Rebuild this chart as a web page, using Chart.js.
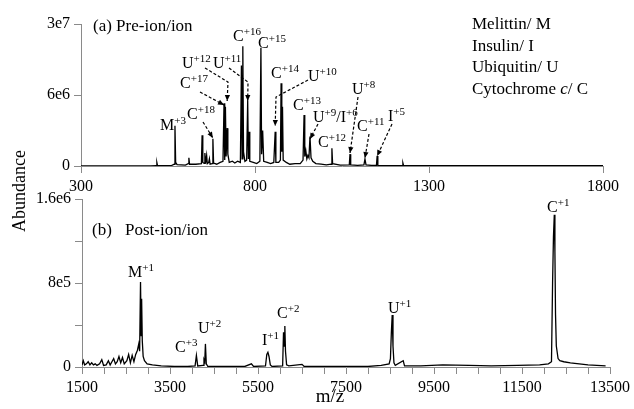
<!DOCTYPE html>
<html>
<head>
<meta charset="utf-8">
<script src="https://cdn.jsdelivr.net/npm/chart.js@4/dist/chart.umd.min.js"></script>
<style>
html,body{margin:0;padding:0;background:#fff;}
#wrap{position:relative;width:634px;height:409px;overflow:hidden;}
canvas{position:absolute;left:0;top:0;}
</style>
</head>
<body>
<div id="wrap">
  <canvas id="post" width="634" height="409"></canvas>
  <canvas id="pre" width="634" height="192"></canvas>
</div>
<script>
// ---- panel (a) pre-ion/ion spectrum: m/z and abundance
const MZ_A=[300,500,516,518,520,560,568,570,572,576,600,608,610,612,630,646,648,650,654,656,658,661,663,667,669,671,677,679,681,690,
  700,708,711,713,715,717,720,722,726,735,742,750,758,761,763,765,767,771,776,779,781,783,785,795,805,814,817,819,822,825,
  835,845,854,858,860,868,873,875,877,879,881,890,900,915,930,938,941,943,946,949,952,955,958,961,966,975,990,1005,
  1019,1021,1023,1045,1071,1073,1075,1095,1113,1116,1119,1135,1149,1151,1153,1190,1223,1225,1227,1300,1500,1800];
const AB_A=[0,0,2e4,3e5,2e4,4e4,1.5e5,3.4e6,3e5,1.2e5,8e4,2e5,7e5,1.5e5,1.5e5,2e5,2.6e6,3e5,2.2e5,1.1e6,2e5,9e5,2e5,3e5,6e5,1.5e5,2e5,2.3e6,2.5e5,1.5e5,
  3e5,4e5,5.3e6,5e5,5.0e6,8e5,3.2e6,1e6,3e5,4e5,2.5e5,4e5,3e5,1.6e7,6e5,2.25e7,1.2e6,4e5,5e5,5.5e6,6e5,2.9e6,4e5,3e5,2e5,4e5,2.2e7,1e6,3e6,4e5,
  3e5,2e5,3e5,2.9e6,3e5,3e5,5e5,1.0e7,1.2e6,5e6,5e5,3e5,1.5e5,2e5,2e5,5e5,4.3e6,8e5,1.3e6,6e5,9e5,7e5,2.5e6,7e5,4e5,2e5,1.5e5,1e5,
  1.5e5,1.5e6,2e5,8e4,1e5,1.0e6,1e5,6e4,1e5,6e5,1e5,5e4,5e4,8.5e5,5e4,4e4,3e4,2.5e5,3e4,3e4,2e4,2e4];

// ---- panel (b) post-ion/ion spectrum
const MZ_B=[1500,1530,1560,1600,1640,1680,1720,1760,1800,1840,1900,1950,1990,2050,2100,2140,2180,2220,2260,2300,2340,2380,2420,2460,2520,2560,2600,2640,2680,2720,
  2760,2790,2810,2830,2845,2855,2870,2890,2920,2980,3100,3300,3600,3900,4070,4100,4130,4250,4272,4290,4305,4325,4360,4700,5200,5350,5400,
  5670,5700,5725,5750,5780,5820,6060,6080,6095,6110,6125,6150,6200,6500,6550,7000,7500,8000,8300,8480,8510,8530,8550,8568,8590,8620,8800,8830,
  9200,9700,10300,10800,11400,11900,12100,12170,12195,12215,12234,12248,12262,12280,12320,12360,12450,12600,12800,13000,13200,13400];
const AB_B=[2e4,6e4,2e4,3e4,5e4,2e4,4e4,2e4,3e4,1.5e4,3e4,7e4,1.5e4,2e4,6e4,2e4,5e4,8e4,3e4,5e4,1.0e5,4e4,9e4,3e4,6e4,1.2e5,4e4,1.1e5,5e4,1.2e5,
  1.6e5,2.2e5,1.5e5,8.1e5,3e5,6.5e5,2.5e5,1.0e5,6e4,3e4,2e4,1e4,5e3,5e3,1e4,1.1e5,1e4,1.5e4,7e4,5e4,2.2e5,3e4,5e3,5e3,5e3,3e4,5e3,
  1e4,1.2e5,1.4e5,1.0e5,2e4,5e3,1e4,3.3e5,2e5,3.9e5,1.5e5,2e4,1e4,2.5e4,5e3,5e3,5e3,5e3,1.5e4,3e4,8e4,3.2e5,4.95e5,2e5,4e4,1.5e4,6e4,1e4,
  1e4,2e4,1.5e4,1e4,1.5e4,2e4,3e4,5e4,8e5,1.24e6,1.45e6,1.1e6,5e5,2e5,8e4,6e4,5e4,4e4,3e4,2e4,1.5e4,1e4];

// ---- axes
const XT_A=[300,800,1300,1800];
const YT_A=[0,6e6,3e7], YL_A=['0','6e6','3e7'];
const SPLIT_A=6e6; // panel (a) y axis: lower half 0..6e6, upper half 6e6..3e7
const XT_B_MAJOR=[1500,3500,5500,7500,9500,11500,13500];
const YT_B=[0,4e5,8e5,1.2e6,1.6e6], YL_B=['0','','8e5','','1.6e6'];

// ---- annotations ({} = superscript, [] = italic)
const LABELS_A=[['M{+3}',160,130],['C{+18}',187,119],['C{+17}',180,88],['U{+12}',182,68],['U{+11}',213,68],
  ['C{+16}',233,41],['C{+15}',258,48],['C{+14}',271,78],['U{+10}',308,81],['C{+13}',293,110],
  ['U{+9}/I{+6}',313,122],['C{+12}',318,147],['U{+8}',352,94],['C{+11}',357,131],['I{+5}',388,121]];
const ARROWS_A=[{mz:679,pts:[[203,122],[213,138]]},{mz:711,pts:[[200,92],[222,105]]},
  {mz:720,pts:[[205,68],[228,82],[228,101]]},{mz:779,pts:[[229,68],[248,82],[248,101]]},
  {mz:858,pts:[[308,80],[276,97],[275,126]]},{mz:958,pts:[[318,124],[311,139]]},
  {mz:1073,pts:[[358,97],[350,153]]},{mz:1116,pts:[[369,134],[366,158]]},{mz:1151,pts:[[392,124],[378,156]]}];
const KEY_A=['Melittin/ M','Insulin/ I','Ubiquitin/ U','Cytochrome [c]/ C'];
const LABELS_B=[['M{+1}',128,277],['C{+3}',175,352],['U{+2}',198,333],['I{+1}',262,345],['C{+2}',277,318],['U{+1}',388,313],['C{+1}',547,212]];

const FAM="'Liberation Serif','DejaVu Serif',serif";
const AXIS='#8a8a8a';

class SplitScale extends Chart.LinearScale{
  getPixelForValue(v){
    const t = v<=SPLIT_A ? 0.5*(v-this.min)/(SPLIT_A-this.min) : 0.5+0.5*(v-SPLIT_A)/(this.max-SPLIT_A);
    return this.bottom - t*(this.bottom-this.top);
  }
  getValueForPixel(p){
    const t=(this.bottom-p)/(this.bottom-this.top);
    return t<=0.5 ? this.min+2*t*(SPLIT_A-this.min) : SPLIT_A+2*(t-0.5)*(this.max-SPLIT_A);
  }
}
SplitScale.id='split';
SplitScale.defaults=Chart.LinearScale.defaults;
Chart.register(SplitScale);

function rich(ctx,str,x,y,size,sup){
  const re=/\{([^}]*)\}|\[([^\]]*)\]|([^{[]+)/g; let m, cx=x;
  while((m=re.exec(str))){
    let txt, dy=0;
    if(m[1]!==undefined){txt=m[1]; ctx.font=`${sup}px ${FAM}`; dy=-size*0.36;}
    else if(m[2]!==undefined){txt=m[2]; ctx.font=`italic ${size}px ${FAM}`;}
    else {txt=m[3]; ctx.font=`${size}px ${FAM}`;}
    ctx.fillText(txt,cx,y+dy); cx+=ctx.measureText(txt).width;
  }
}
function arrow(ctx,pts){
  ctx.save(); ctx.strokeStyle='#000'; ctx.fillStyle='#000'; ctx.lineWidth=1.2; ctx.setLineDash([3,2]);
  ctx.beginPath(); ctx.moveTo(pts[0][0],pts[0][1]); pts.slice(1).forEach(p=>ctx.lineTo(p[0],p[1])); ctx.stroke();
  ctx.setLineDash([]);
  const [x1,y1]=pts[pts.length-2],[x2,y2]=pts[pts.length-1];
  const a=Math.atan2(y2-y1,x2-x1), L=6, W=2.6;
  ctx.beginPath(); ctx.moveTo(x2,y2);
  ctx.lineTo(x2-L*Math.cos(a)+W*Math.sin(a),y2-L*Math.sin(a)-W*Math.cos(a));
  ctx.lineTo(x2-L*Math.cos(a)-W*Math.sin(a),y2-L*Math.sin(a)+W*Math.cos(a));
  ctx.closePath(); ctx.fill(); ctx.restore();
}

const pts=(xs,ys)=>xs.map((x,i)=>({x,y:ys[i]}));
function axisOpts(extra,cb){
  return Object.assign({
    grid:{display:true,drawOnChartArea:false,drawTicks:true,tickLength:7,color:AXIS},
    border:{display:true,color:AXIS,width:1},
    ticks:{color:'#000',font:{family:FAM,size:16},autoSkip:false,maxRotation:0,padding:4,callback:cb}
  },extra);
}

const annoA={id:'annoA',afterDraw(c){
  const ctx=c.ctx, xs=c.scales.x; ctx.save(); ctx.fillStyle='#000'; ctx.textBaseline='alphabetic'; ctx.textAlign='left';
  ctx.font=`17px ${FAM}`; ctx.fillText('(a) Pre-ion/ion',93,31);
  KEY_A.forEach((t,i)=>rich(ctx,t,472,29+i*21.7,17,12));
  LABELS_A.forEach(([t,x,y])=>rich(ctx,t,x,y,16,11));
  ARROWS_A.forEach(a=>{const p=a.pts.map(q=>q.slice()); p[p.length-1][0]=xs.getPixelForValue(a.mz); arrow(ctx,p);});
  ctx.restore();
}};
const annoB={id:'annoB',afterDraw(c){
  const ctx=c.ctx; ctx.save(); ctx.fillStyle='#000'; ctx.textBaseline='alphabetic'; ctx.textAlign='left';
  ctx.font=`17px ${FAM}`; ctx.fillText('(b)',92,235); ctx.fillText('Post-ion/ion',125,235);
  LABELS_B.forEach(([t,x,y])=>rich(ctx,t,x,y,16,11));
  ctx.font=`19px ${FAM}`; ctx.textAlign='center'; ctx.fillText('m/z',330,402);
  ctx.translate(25,191); ctx.rotate(-Math.PI/2); ctx.font=`18px ${FAM}`; ctx.fillText('Abundance',0,0);
  ctx.restore();
}};

const common={responsive:false,animation:false,devicePixelRatio:1,
  plugins:{legend:{display:false},tooltip:{enabled:false}},
  elements:{point:{radius:0},line:{borderWidth:1.3,tension:0}}};

new Chart(document.getElementById('pre'),{
  type:'line',
  data:{datasets:[{data:pts(MZ_A,AB_A),borderColor:'#000',fill:false}]},
  options:Object.assign({},common,{
    layout:{padding:{top:24,right:31,left:0,bottom:0}},
    scales:{
      x:axisOpts({type:'linear',min:300,max:1800,
        afterBuildTicks:s=>{s.ticks=XT_A.map(v=>({value:v}));},
        afterFit:s=>{s.height=26;}},v=>String(v)),
      y:axisOpts({type:'split',min:0,max:3e7,
        afterBuildTicks:s=>{s.ticks=YT_A.map(v=>({value:v}));},
        afterFit:s=>{s.width=81;}},(v,i)=>YL_A[i])
    }
  }),
  plugins:[annoA]
});
new Chart(document.getElementById('post'),{
  type:'line',
  data:{datasets:[{data:pts(MZ_B,AB_B),borderColor:'#000',fill:false}]},
  options:Object.assign({},common,{
    layout:{padding:{top:199,right:21,left:0,bottom:0}},
    scales:{
      x:axisOpts({type:'linear',min:1500,max:13500,
        afterBuildTicks:s=>{const t=[]; for(let v=1500;v<=13500;v+=500)t.push({value:v}); s.ticks=t;},
        afterFit:s=>{s.height=42;}},v=>XT_B_MAJOR.includes(v)?String(v):''),
      y:axisOpts({type:'linear',min:0,max:1.6e6,
        afterBuildTicks:s=>{s.ticks=YT_B.map(v=>({value:v}));},
        afterFit:s=>{s.width=82;}},(v,i)=>YL_B[i])
    }
  }),
  plugins:[annoB]
});
</script>
</body>
</html>
